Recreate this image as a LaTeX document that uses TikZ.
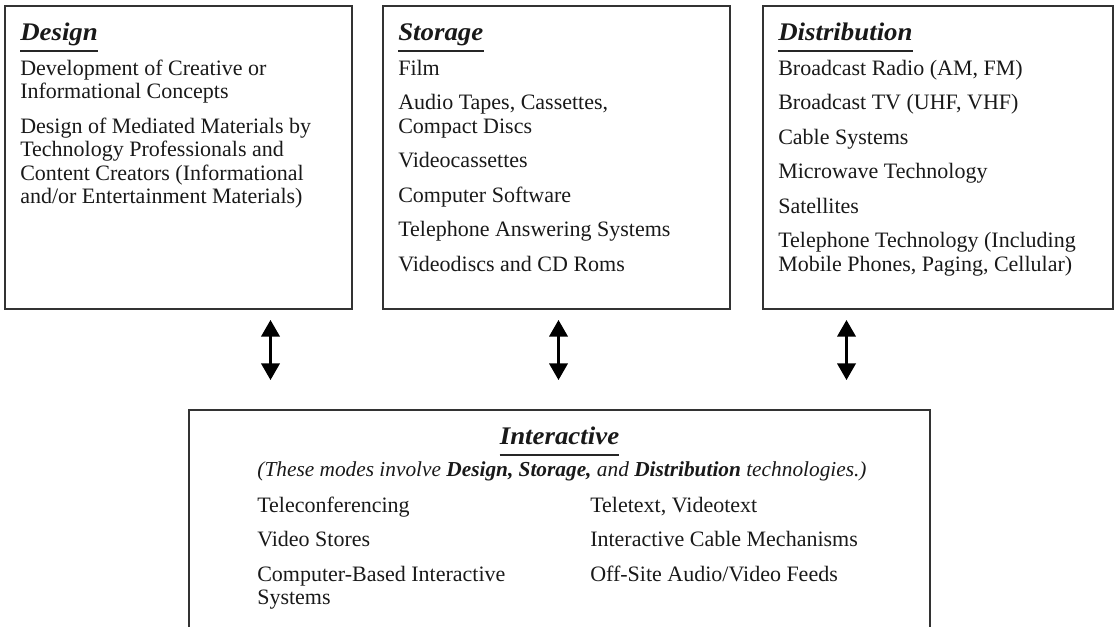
\documentclass[tikz,border=0pt]{standalone}
\usepackage{fontspec}
\setmainfont{Liberation Serif}
\newfontfamily\headfont{Liberation Serif}[FakeStretch=1.06]
\usetikzlibrary{arrows.meta,calc,fit}

\tikzset{
  panel/.style={draw=black!80, line width=1.3pt, inner sep=0pt},
  head/.style={anchor=base west, inner sep=0pt, text=black!90,
    font=\fontsize{19}{21}\headfont\bfseries\itshape},
  % multi-line items are anchored at the baseline of their last line
  item/.style={anchor=base west, inner sep=0pt, align=left, text=black!90,
    font=\fontsize{16.5}{17.6}\selectfont},
  note/.style={anchor=base, inner sep=0pt, text=black!90,
    font=\fontsize{16}{18}\selectfont\itshape},
  rule/.style={line width=1.5pt, draw=black!85},
  link/.style={line width=2.6pt, draw=black,
    {Triangle[width=13.5pt,length=12.5pt]}-{Triangle[width=13.5pt,length=12.5pt]}},
}

\begin{document}
\begin{tikzpicture}[x=0.75pt,y=-0.75pt]
\clip (0,0) rectangle (1117,626);
\useasboundingbox (0,0) rectangle (1117,626);

% the three upper panels and the lower, open-ended panel
\node[panel, fit={(5,6) (352,309)}] (design) {};
\node[panel, fit={(383,6) (730,309)}] (storage) {};
\node[panel, fit={(763,6) (1113,309)}] (distrib) {};
\node[panel, fit={(189,410) (930,680)}] (inter) {};

% Design
\node[head] (dh) at (20,40) {Design};
\draw[rule] ($(dh.base west)+(0,11)$) -- ($(dh.base east)+(0,11)$);
\node[item] (d1) at (20,98.5) {Development of Creative or\\Informational Concepts};
\node[item] (d2) at (20,203.5) {Design of Mediated Materials by\\Technology Professionals and\\Content Creators (Informational\\and/or Entertainment Materials)};

% Storage
\node[head] (sh) at (398,40) {Storage};
\draw[rule] ($(sh.base west)+(0,11)$) -- ($(sh.base east)+(0,11)$);
\node[item] (s1) at (398,75) {Film};
\node[item] (s2) at (398,133) {Audio Tapes, Cassettes,\\Compact Discs};
\node[item] (s3) at (398,167.5) {Videocassettes};
\node[item] (s4) at (398,202) {Computer Software};
\node[item] (s5) at (398,236.5) {Telephone Answering Systems};
\node[item] (s6) at (398,271) {Videodiscs and CD Roms};

% Distribution
\node[head] (th) at (778,40) {Distribution};
\draw[rule] ($(th.base west)+(0,11)$) -- ($(th.base east)+(0,11)$);
\node[item] (t1) at (778,75) {Broadcast Radio (AM, FM)};
\node[item] (t2) at (778,109.5) {Broadcast TV (UHF, VHF)};
\node[item] (t3) at (778,144) {Cable Systems};
\node[item] (t4) at (778,178.5) {Microwave Technology};
\node[item] (t5) at (778,213) {Satellites};
\node[item] (t6) at (778,271) {Telephone Technology (Including\\Mobile Phones, Paging, Cellular)};

% Interactive
\node[head, anchor=base] (ih) at (559.5,444) {Interactive};
\draw[rule] ($(ih.base west)+(0,11)$) -- ($(ih.base east)+(0,11)$);
\node[note] (in) at (562,476) {(These modes involve \textbf{Design, Storage,} and \textbf{Distribution} technologies.)};
\node[item] (i1) at (257,512) {Teleconferencing};
\node[item] (i2) at (257,546.5) {Video Stores};
\node[item] (i3) at (257,604.5) {Computer-Based Interactive\\Systems};
\node[item] (i4) at (590,512) {Teletext, Videotext};
\node[item] (i5) at (590,546.5) {Interactive Cable Mechanisms};
\node[item] (i6) at (590,581) {Off-Site Audio/Video Feeds};

% two-way links between the upper panels and the lower one
\coordinate (c1) at (270.5,0);
\coordinate (c2) at (558.5,0);
\coordinate (c3) at (846.5,0);
\draw[link] ($(design.south -| c1)+(0,10)$) -- ($(inter.north -| c1)+(0,-29)$);
\draw[link] ($(storage.south -| c2)+(0,10)$) -- ($(inter.north -| c2)+(0,-29)$);
\draw[link] ($(distrib.south -| c3)+(0,10)$) -- ($(inter.north -| c3)+(0,-29)$);
\end{tikzpicture}
\end{document}
